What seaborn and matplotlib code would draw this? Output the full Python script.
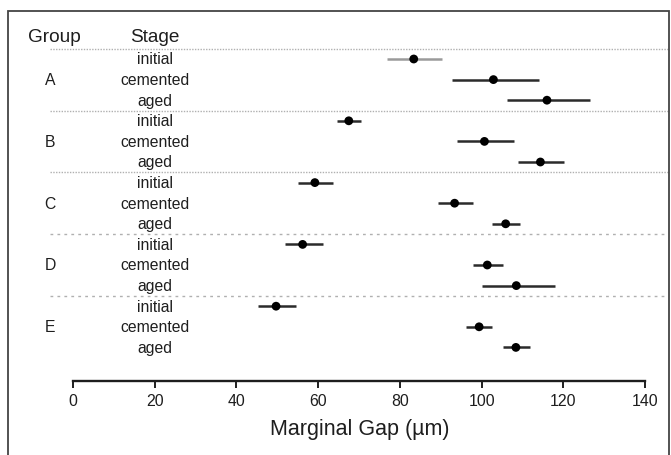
import numpy as np
import pandas as pd
import matplotlib
matplotlib.use('Agg')
import matplotlib.pyplot as plt
from matplotlib.patches import Rectangle
import seaborn as sns

sns.set_style('white')
plt.rcParams['font.family'] = ['Liberation Sans', 'DejaVu Sans']

# values (marginal gap, um)
groups = ['A', 'B', 'C', 'D', 'E']
stages = ['initial', 'cemented', 'aged']
means = [83.4, 102.9, 116.0,
         67.5, 100.7, 114.4,
         59.2, 93.4, 105.9,
         56.2, 101.4, 108.5,
         49.7, 99.4, 108.4]
lower = [76.9, 92.8, 106.3,
         64.5, 93.9, 108.9,
         55.0, 89.3, 102.5,
         51.9, 97.8, 100.0,
         45.2, 96.3, 105.3]
upper = [90.2, 114.0, 126.6,
         70.5, 107.9, 120.2,
         63.6, 97.9, 109.5,
         61.1, 105.3, 118.0,
         54.7, 102.5, 111.8]
ticks = [0, 20, 40, 60, 80, 100, 120, 140]

df = pd.DataFrame({
    'group': np.repeat(groups, len(stages)),
    'stage': stages * len(groups),
    'mean': means, 'lo': lower, 'hi': upper,
})
df['row'] = np.arange(len(df))

W, H = 671, 456
fig = plt.figure(figsize=(W / 100, H / 100), dpi=100)
ax = fig.add_axes([0, 0, 1, 1])

# pixel mapping: x=0 at 73px, 140 at 645px; row 0 at 60px, 20.6px per row
pxu = (645 - 73) / 140
x0, x1 = -73 / pxu, (W - 73) / pxu
r0, r1 = -60 / 20.6, (H - 60) / 20.6
ax.set_xlim(x0, x1)
ax.set_ylim(r1, r0)

# error bars (first one drawn lighter as in the original)
for i, r in df.iterrows():
    col = '#9a9a9a' if i == 0 else '#2b2b2b'
    ax.hlines(r['row'], r['lo'], r['hi'], color=col, lw=1.8, zorder=2)
sns.scatterplot(data=df, x='mean', y='row', color='black', s=40,
                edgecolor='none', ax=ax, zorder=3)

# group separators
xl = (50 - 73) / pxu
xr = (668 - 73) / pxu
for k in range(len(groups)):
    y = k * 3 - 0.5
    ls = (0, (1, 1)) if k < 3 else (0, (2, 3))
    ax.hlines(y, xl, xr, color='#b0b0b0', lw=1.0, linestyles=[ls], zorder=1)

# row labels
gx = (50 - 73) / pxu
sx = (155 - 73) / pxu
ax.text(gx + 1.0, -1.07, 'Group', ha='center', va='center', fontsize=13.7, color='#1e1e1e')
ax.text(sx, -1.07, 'Stage', ha='center', va='center', fontsize=13.7, color='#1e1e1e')
for _, r in df.iterrows():
    ax.text(sx, r['row'], r['stage'], ha='center', va='center', fontsize=11.3, color='#1e1e1e')
    if r['stage'] == 'cemented':
        ax.text(gx, r['row'], r['group'], ha='center', va='center', fontsize=11.3, color='#1e1e1e')

# x axis
axis_row = (382 - 60) / 20.6
for s in ['top', 'right', 'left']:
    ax.spines[s].set_visible(False)
ax.spines['bottom'].set_position(('data', axis_row))
ax.spines['bottom'].set_bounds(0, 140)
ax.spines['bottom'].set_linewidth(1.7)
ax.spines['bottom'].set_color('#1e1e1e')
ax.set_xticks(ticks)
ax.set_yticks([])
ax.tick_params(axis='x', direction='out', length=5, width=1.4, color='#1e1e1e',
               labelsize=11.4, labelcolor='#1e1e1e', pad=4, bottom=True)
ax.set_xlabel('Marginal Gap (\u00b5m)', fontsize=15.5, color='#1e1e1e')
ax.xaxis.set_label_coords(360 / W, 1 - 430 / H)
ax.xaxis.label.set_verticalalignment('center')
ax.set_ylabel('')

# figure frame
fig.patches.append(Rectangle((8 / W, -0.05), (669 - 8) / W, 1.05 - 12 / H,
                             transform=fig.transFigure, fill=False,
                             edgecolor='#444444', lw=1.3))

fig.savefig('out.png', dpi=100)
